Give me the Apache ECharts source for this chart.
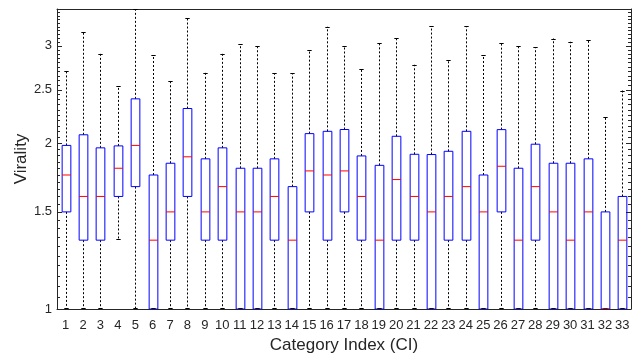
<!DOCTYPE html>
<html>
<head>
<meta charset="utf-8">
<script src="https://cdn.jsdelivr.net/npm/echarts@6/dist/echarts.min.js"></script>
<style>html,body{margin:0;padding:0;background:#fff}#c{width:633px;height:359px}</style>
</head>
<body>
<div id="c"></div>
<script>
var categories = ['1','2','3','4','5','6','7','8','9','10','11','12','13','14','15','16','17','18','19','20','21','22','23','24','25','26','27','28','29','30','31','32','33'];
var lowerWhisker = [1,1,1,1.333,1,1,1,1,1,1,1,1,1,1,1,1,1,1,1,1,1,1,1,1,1,1,1,1,1,1,1,1,1];
var q1 = [1.5,1.333,1.333,1.6,1.667,1,1.333,1.6,1.333,1.333,1,1,1.333,1,1.5,1.333,1.5,1.333,1,1.333,1.333,1,1.333,1.333,1,1.5,1,1.333,1,1,1,1,1];
var median = [1.75,1.6,1.6,1.8,1.98,1.333,1.5,1.888,1.5,1.667,1.5,1.5,1.6,1.333,1.78,1.75,1.78,1.6,1.333,1.717,1.6,1.5,1.6,1.667,1.5,1.815,1.333,1.667,1.5,1.333,1.5,1,1.333];
var q3 = [1.98,2.07,1.96,1.976,2.405,1.75,1.838,2.31,1.872,1.96,1.8,1.8,1.872,1.667,2.08,2.1,2.116,1.895,1.822,2.057,1.908,1.906,1.932,2.1,1.75,2.115,1.8,1.99,1.838,1.838,1.872,1.5,1.6];
var upperWhisker = [2.707,3.18,2.906,2.535,3.5,2.886,2.596,3.364,2.684,2.906,3.021,3.0,2.68,2.68,2.947,3.249,3.0,2.726,3.039,3.103,2.772,3.258,2.831,3.258,2.886,3.039,3.0,2.984,3.094,3.052,3.077,2.231,2.49];
var yTickLabels = [1, 1.5, 2, 2.5, 3];
var yMinorTicks = [];
for (var t = 1.05; t < 3.49; t += 0.05) { yMinorTicks.push(Math.round(t * 100) / 100); }

var AX = '#262626';
var FONT = 'Liberation Sans, Arial, Helvetica, sans-serif';

var data = categories.map(function (c, i) {
  return [i, lowerWhisker[i], q1[i], median[i], q3[i], upperWhisker[i]];
});
var tickData = yTickLabels.map(function (v) { return [0, v, 1]; })
  .concat(yMinorTicks.map(function (v) { return [0, v, 0]; }));

function renderItem(params, api) {
  var i = api.value(0);
  var lo = api.coord([i, api.value(1)]);
  var b1 = api.coord([i, api.value(2)]);
  var md = api.coord([i, api.value(3)]);
  var b3 = api.coord([i, api.value(4)]);
  var hi = api.coord([i, api.value(5)]);
  var band = api.size([1, 0])[0];
  var bw = band * 0.5;
  var x = Math.round(lo[0]) + 0.5;
  var children = [];
  var dash = {stroke: '#000', lineWidth: 1, lineDash: [2, 2]};
  if (hi[1] < b3[1]) {
    children.push({type: 'line', shape: {x1: x, y1: b3[1], x2: x, y2: hi[1]}, style: dash});
  }
  if (lo[1] > b1[1]) {
    children.push({type: 'line', shape: {x1: x, y1: b1[1], x2: x, y2: lo[1]}, style: dash});
  }
  children.push({type: 'line', shape: {x1: x - bw / 4, y1: Math.round(hi[1]) + 0.5, x2: x + bw / 4, y2: Math.round(hi[1]) + 0.5}, style: {stroke: '#000', lineWidth: 1}});
  children.push({type: 'line', shape: {x1: x - bw / 4, y1: Math.round(lo[1]) - 0.5, x2: x + bw / 4, y2: Math.round(lo[1]) - 0.5}, style: {stroke: '#000', lineWidth: 1}});
  children.push({type: 'rect', shape: {x: x - bw / 2, y: b3[1], width: bw, height: b1[1] - b3[1]}, style: {fill: null, stroke: '#0000ff', lineWidth: 1}});
  children.push({type: 'line', shape: {x1: x - bw / 2, y1: md[1], x2: x + bw / 2, y2: md[1]}, style: {stroke: '#ff0000', lineWidth: 1}});
  return {type: 'group', children: children};
}

function renderTick(params, api) {
  var p = api.coord([0, api.value(1)]);
  var cs = params.coordSys;
  var len = api.value(2) ? 5 : 3;
  var y = Math.round(p[1]) + 0.5;
  var st = {stroke: AX, lineWidth: 1};
  return {type: 'group', children: [
    {type: 'line', shape: {x1: cs.x, y1: y, x2: cs.x + len, y2: y}, style: st},
    {type: 'line', shape: {x1: cs.x + cs.width - len, y1: y, x2: cs.x + cs.width, y2: y}, style: st}
  ]};
}

var chart = echarts.init(document.getElementById('c'), null, {renderer: 'canvas'});
var yBase = {
  type: 'log', logBase: 10, min: 1, max: 3.5,
  splitLine: {show: false},
  axisTick: {show: false},
  axisLine: {show: true, lineStyle: {color: AX, width: 1}}
};
chart.setOption({
  animation: false,
  backgroundColor: '#fff',
  grid: {left: 57, right: 2, top: 9, bottom: 50, containLabel: false, outerBoundsMode: 'none'},
  xAxis: [{
    type: 'category', data: categories, position: 'bottom',
    name: 'Category Index (CI)', nameLocation: 'middle', nameGap: 28, nameMoveOverlap: false,
    nameTextStyle: {color: AX, fontSize: 17, fontFamily: FONT},
    axisLine: {lineStyle: {color: AX, width: 1}},
    axisTick: {inside: true, length: 4, alignWithLabel: true, lineStyle: {color: AX}},
    axisLabel: {color: AX, fontSize: 13, fontFamily: FONT, margin: 10, interval: 0},
    splitLine: {show: false}
  }, {
    type: 'category', data: categories, position: 'top',
    axisLine: {lineStyle: {color: AX, width: 1}},
    axisTick: {inside: true, length: 5, alignWithLabel: true, lineStyle: {color: AX}},
    axisLabel: {show: false},
    splitLine: {show: false}
  }],
  yAxis: [
    Object.assign({}, yBase, {
      position: 'left',
      name: 'Virality', nameLocation: 'middle', nameGap: 27, nameRotate: 90, nameMoveOverlap: false,
      nameTextStyle: {color: AX, fontSize: 17, fontFamily: FONT},
      axisLabel: {color: AX, fontSize: 13, fontFamily: FONT, margin: 5, customValues: yTickLabels}
    }),
    Object.assign({}, yBase, {
      position: 'right',
      axisLabel: {show: false}
    })
  ],
  series: [{
    type: 'custom',
    xAxisIndex: 0, yAxisIndex: 0,
    renderItem: renderTick,
    encode: {x: 0, y: 1},
    data: tickData,
    silent: true,
    z: 1
  }, {
    type: 'custom',
    xAxisIndex: 0, yAxisIndex: 0,
    renderItem: renderItem,
    encode: {x: 0, y: [1, 2, 3, 4, 5]},
    data: data,
    clip: true,
    z: 2
  }]
});
</script>
</body>
</html>
